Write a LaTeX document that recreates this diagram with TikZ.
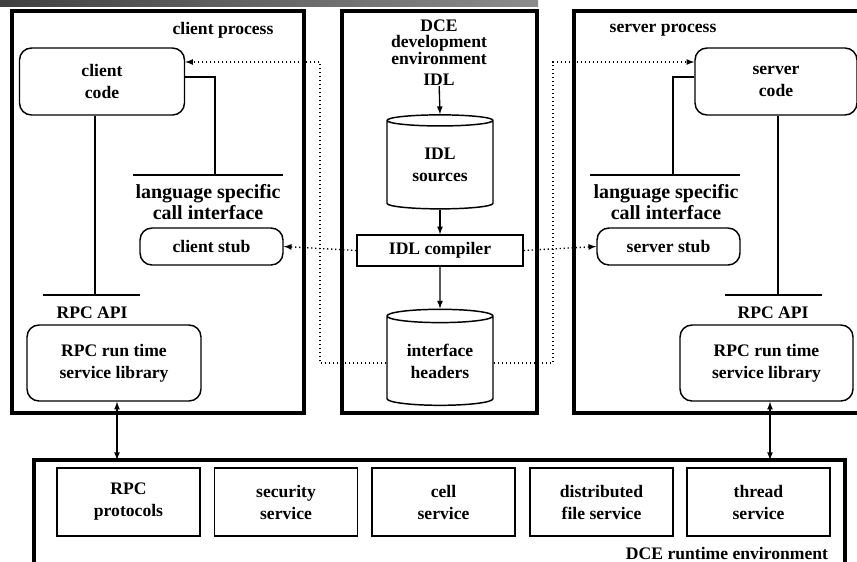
\documentclass[tikz,border=0pt]{standalone}
\usepackage{fontspec}
\setmainfont{Liberation Serif}
\usetikzlibrary{arrows,shapes.geometric}

\tikzset{
  txt/.style={font=\fontsize{13.2}{16.5}\selectfont\bfseries, align=center, inner sep=0pt},
  tight/.style={font=\fontsize{13.2}{12.4}\selectfont\bfseries, align=center, inner sep=0pt},
  big/.style={font=\fontsize{15}{15.75}\selectfont\bfseries, align=center, inner sep=0pt},
  procbox/.style={line width=2.3pt},
  codebox/.style={txt, draw, line width=1.1pt, rounded corners=9pt},
  plainbox/.style={txt, draw, line width=1pt},
  store/.style={txt, draw, line width=1.1pt, cylinder, shape border rotate=90, aspect=0.2},
  link/.style={line width=1pt},
  dots/.style={line width=1pt, dotted, -latex},
}

\begin{document}
\begin{tikzpicture}[x=0.75pt,y=0.75pt,yscale=-1,xscale=1]
\useasboundingbox (0,0) rectangle (857,561);

%title bar
\shade[left color=black!75, right color=black!45] (0,0) rectangle (538,6);

%Process frames
\draw[procbox] (12,11) rectangle (304,413);
\draw[procbox] (342,11) rectangle (537,413);
\draw[procbox] (880,11) -- (574,11) -- (574,413) -- (880,413);
\draw[procbox] (34,580) -- (34,460) -- (845,460) -- (845,580);

% client side
\node[txt] (clientproc) at (223,30) {client process};
\node[codebox, minimum width=165*0.75pt, minimum height=67*0.75pt] (clientcode) at (102,81.5) {client\\code};
\node[big] (lsLtxt) at (208,202) {language specific\\call interface};
\node[codebox, minimum width=143*0.75pt, minimum height=37*0.75pt] (clientstub) at (211.5,246.5) {client stub};
\node[txt] (apiLtxt) at (92,313) {RPC API};
\node[codebox, minimum width=174*0.75pt, minimum height=76*0.75pt] (rpclibL) at (114,363) {RPC run time\\service library};

\coordinate (lsLa) at (133,175);
\coordinate (lsLb) at (283,175);
\coordinate (lsLj) at (215,175);
\coordinate (apiLa) at (43,295);
\coordinate (apiLb) at (140,295);
\coordinate (apiLj) at (95,295);
\draw[link] (lsLa) -- (lsLb);
\draw[link] (apiLa) -- (apiLb);
\draw[link] ([yshift=-3.4pt]clientcode.east) -| (lsLj);
\draw[link] (clientcode.south -| apiLj) -- (apiLj);

% development environment
\node[tight] (dcedev) at (439,42) {DCE\\development\\environment};
\node[txt] (idl) at (439,80) {IDL};
\node[store, minimum width=106*0.75pt, minimum height=94*0.75pt] (idlsrc) at (440,165) {IDL\\sources};
\node[plainbox, minimum width=166*0.75pt, minimum height=31*0.75pt] (compiler) at (440,250.5) {IDL compiler};
\node[store, minimum width=106*0.75pt, minimum height=96*0.75pt] (headers) at (440,361) {interface\\headers};

\draw[link,-latex] (idl) -- (idlsrc.north);
\draw[link,-latex] (idlsrc.south) -- (compiler.north);
\draw[link,-latex] (compiler.south) -- (headers.north);

% server side
\node[txt] (serverproc) at (663,30) {server process};
\node[codebox, minimum width=162*0.75pt, minimum height=67*0.75pt] (servercode) at (776,81.5) {server\\code};
\node[big] (lsRtxt) at (666,202) {language specific\\call interface};
\node[codebox, minimum width=143*0.75pt, minimum height=37*0.75pt] (serverstub) at (668.5,246.5) {server stub};
\node[txt] (apiRtxt) at (773,313) {RPC API};
\node[codebox, minimum width=173*0.75pt, minimum height=76*0.75pt] (rpclibR) at (766.5,363) {RPC run time\\service library};

\coordinate (lsRa) at (590,175);
\coordinate (lsRb) at (740,175);
\coordinate (lsRj) at (673,175);
\coordinate (apiRa) at (725,295);
\coordinate (apiRb) at (822,295);
\coordinate (apiRj) at (778,295);
\draw[link] (lsRa) -- (lsRb);
\draw[link] (apiRa) -- (apiRb);
\draw[link] ([yshift=-3.4pt]servercode.west) -| (lsRj);
\draw[link] (servercode.south -| apiRj) -- (apiRj);

% generated code paths
\coordinate (loopL) at (320,62);
\coordinate (loopLb) at (320,363);
\coordinate (loopR) at (553,62);
\coordinate (loopRb) at (553,363);
\draw[dots] (compiler.west) -- (clientstub.east);
\draw[dots] (compiler.east) -- (serverstub.west);
\draw[dots] (headers.west |- loopLb) -- (loopLb) -- (loopL) -- (clientcode.east |- loopL);
\draw[dots] (headers.east |- loopRb) -- (loopRb) -- (loopR) -- (servercode.west |- loopR);

% runtime environment
\node[plainbox, minimum width=143*0.75pt, minimum height=68*0.75pt] (svcrpc) at (128.5,502) {RPC\\protocols};
\node[plainbox, minimum width=143*0.75pt, minimum height=68*0.75pt] (svcsec) at (286,502) {security\\service};
\node[plainbox, minimum width=143*0.75pt, minimum height=68*0.75pt] (svccell) at (443.5,502) {cell\\service};
\node[plainbox, minimum width=143*0.75pt, minimum height=68*0.75pt] (svcdfs) at (601.5,502) {distributed\\file service};
\node[plainbox, minimum width=143*0.75pt, minimum height=68*0.75pt] (svcthr) at (758.5,502) {thread\\service};
\node[txt] (rtenv) at (727,553) {DCE runtime environment};

\coordinate (rtL) at (117,460);
\coordinate (rtR) at (770,460);
\draw[link,latex-latex] (rpclibL.south -| rtL) -- (rtL);
\draw[link,latex-latex] (rpclibR.south -| rtR) -- (rtR);

\end{tikzpicture}
\end{document}
